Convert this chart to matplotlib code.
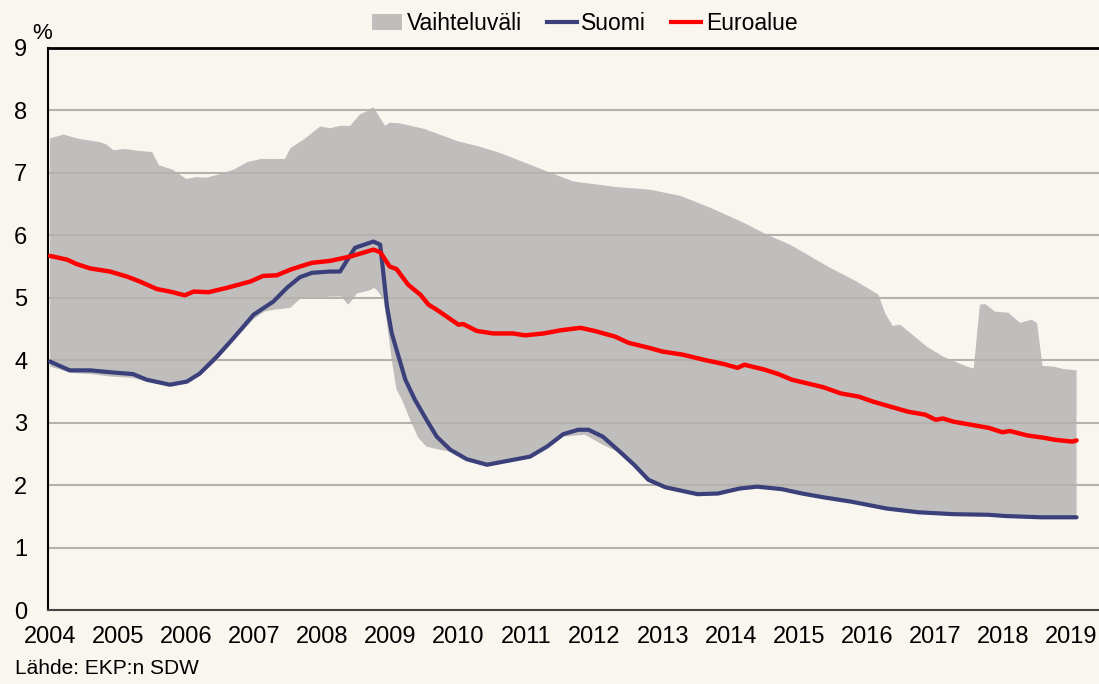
import numpy as np
from matplotlib import pyplot as plt
import matplotlib
from matplotlib.patches import Patch
from matplotlib.lines import Line2D
matplotlib.rcParams.update({'font.family': ['Liberation Sans', 'DejaVu Sans']})

# -----------------------------------------------------------#
# Data (decimal years, %)
# -----------------------------------------------------------#
euro_t = [2004.0, 2004.25, 2004.39, 2004.59, 2004.88, 2005.13, 2005.32, 2005.57, 2005.76, 2005.98,
          2006.11, 2006.33, 2006.60, 2006.94, 2007.13, 2007.33, 2007.53, 2007.67, 2007.85, 2008.11,
          2008.41, 2008.75, 2008.85, 2008.99, 2009.09, 2009.26, 2009.44, 2009.56, 2009.68, 2010.0,
          2010.07, 2010.27, 2010.51, 2010.80, 2010.98, 2011.25, 2011.50, 2011.79, 2012.0, 2012.3,
          2012.5, 2012.8, 2013.0, 2013.3, 2013.6, 2013.9, 2014.1, 2014.2, 2014.5, 2014.7,
          2014.9, 2015.36, 2015.62, 2015.88, 2016.09, 2016.60, 2016.86, 2017.01, 2017.12, 2017.27,
          2017.53, 2017.79, 2017.99, 2018.10, 2018.35, 2018.61, 2018.76, 2019.02, 2019.08]
euro_v = [5.67, 5.61, 5.54, 5.47, 5.42, 5.34, 5.26, 5.14, 5.10, 5.04,
          5.10, 5.09, 5.16, 5.26, 5.35, 5.36, 5.45, 5.50, 5.56, 5.59,
          5.66, 5.77, 5.73, 5.50, 5.46, 5.21, 5.05, 4.89, 4.81, 4.57,
          4.58, 4.47, 4.43, 4.43, 4.40, 4.43, 4.48, 4.52, 4.47, 4.38,
          4.28, 4.20, 4.14, 4.09, 4.01, 3.94, 3.88, 3.93, 3.85, 3.78,
          3.69, 3.57, 3.47, 3.42, 3.34, 3.18, 3.13, 3.05, 3.07, 3.02,
          2.97, 2.92, 2.85, 2.87, 2.80, 2.76, 2.73, 2.70, 2.72]

fin_t = [2004.0, 2004.29, 2004.59, 2004.88, 2005.22, 2005.42, 2005.76, 2006.01, 2006.20, 2006.45,
         2006.69, 2006.99, 2007.28, 2007.48, 2007.67, 2007.85, 2008.11, 2008.26, 2008.48, 2008.75,
         2008.85, 2008.95, 2009.02, 2009.12, 2009.22, 2009.36, 2009.53, 2009.68, 2009.88, 2010.12,
         2010.42, 2010.66, 2011.05, 2011.30, 2011.54, 2011.76, 2011.91, 2012.12, 2012.37, 2012.58,
         2012.79, 2013.04, 2013.51, 2013.81, 2014.13, 2014.39, 2014.75, 2015.05, 2015.36, 2015.77,
         2016.29, 2016.76, 2017.27, 2017.79, 2018.04, 2018.56, 2019.08]
fin_v = [3.98, 3.84, 3.84, 3.81, 3.78, 3.69, 3.61, 3.66, 3.79, 4.06,
         4.35, 4.73, 4.94, 5.16, 5.33, 5.40, 5.42, 5.42, 5.80, 5.90,
         5.85, 4.86, 4.43, 4.06, 3.69, 3.37, 3.05, 2.78, 2.57, 2.42,
         2.33, 2.38, 2.46, 2.62, 2.82, 2.89, 2.89, 2.78, 2.54, 2.33,
         2.09, 1.97, 1.86, 1.87, 1.95, 1.98, 1.94, 1.87, 1.81, 1.74,
         1.63, 1.57, 1.54, 1.53, 1.51, 1.49, 1.49]

hi_t = [2004.0, 2004.2, 2004.39, 2004.49, 2004.73, 2004.83, 2004.93, 2005.1, 2005.3, 2005.5,
        2005.6, 2005.8, 2006.0, 2006.15, 2006.3, 2006.5, 2006.7, 2006.9, 2007.1, 2007.3,
        2007.45, 2007.53, 2007.75, 2007.97, 2008.11, 2008.26, 2008.41, 2008.55, 2008.65, 2008.75,
        2008.92, 2008.99, 2009.14, 2009.5, 2009.8, 2010.0, 2010.3, 2010.6, 2011.0, 2011.35,
        2011.69, 2012.33, 2012.81, 2013.26, 2013.70, 2014.19, 2014.53, 2014.87, 2015.46, 2015.85,
        2016.17, 2016.27, 2016.38, 2016.49, 2016.88, 2017.12, 2017.47, 2017.57, 2017.66, 2017.74,
        2017.88, 2018.08, 2018.25, 2018.42, 2018.50, 2018.58, 2018.74, 2018.89, 2019.08]
hi_v = [7.55, 7.61, 7.55, 7.53, 7.49, 7.45, 7.36, 7.38, 7.35, 7.33,
        7.12, 7.05, 6.90, 6.93, 6.92, 6.98, 7.05, 7.17, 7.22, 7.22,
        7.22, 7.39, 7.55, 7.74, 7.71, 7.75, 7.75, 7.93, 7.98, 8.05,
        7.75, 7.80, 7.79, 7.70, 7.58, 7.50, 7.42, 7.32, 7.15, 7.00,
        6.86, 6.77, 6.73, 6.63, 6.44, 6.20, 6.01, 5.85, 5.48, 5.26,
        5.05, 4.75, 4.55, 4.57, 4.22, 4.06, 3.90, 3.87, 4.89, 4.90,
        4.78, 4.76, 4.60, 4.65, 4.60, 3.91, 3.90, 3.86, 3.84]

lo_t = [2004.0, 2004.3, 2004.6, 2004.9, 2005.2, 2005.42, 2005.76, 2006.01, 2006.2, 2006.45,
        2006.69, 2006.99, 2007.15, 2007.3, 2007.53, 2007.67, 2008.11, 2008.28, 2008.38, 2008.42,
        2008.51, 2008.70, 2008.76, 2008.82, 2008.90, 2008.97, 2009.02, 2009.09, 2009.17, 2009.29,
        2009.41, 2009.53, 2009.73, 2009.97, 2010.12, 2010.42, 2010.66, 2011.05, 2011.30, 2011.54,
        2011.86, 2012.12, 2012.37, 2012.58, 2012.79, 2013.04, 2013.51, 2013.81, 2014.13, 2014.39,
        2014.75, 2015.05, 2015.36, 2015.77, 2016.29, 2016.76, 2017.27, 2017.79, 2018.04, 2018.56,
        2019.08]
lo_v = [3.90, 3.80, 3.78, 3.74, 3.72, 3.66, 3.60, 3.64, 3.75, 4.00,
        4.30, 4.66, 4.78, 4.81, 4.84, 4.98, 5.02, 5.02, 4.89, 4.94,
        5.07, 5.12, 5.16, 5.10, 4.97, 4.43, 4.01, 3.53, 3.37, 3.05,
        2.76, 2.62, 2.57, 2.52, 2.41, 2.32, 2.37, 2.45, 2.60, 2.78,
        2.81, 2.65, 2.52, 2.32, 2.09, 1.97, 1.86, 1.87, 1.95, 1.98,
        1.94, 1.87, 1.81, 1.74, 1.63, 1.57, 1.54, 1.53, 1.51, 1.49,
        1.49]

years = list(range(2004, 2020))
bg = '#F9F5EF'

# -----------------------------------------------------------#
# Figure
# -----------------------------------------------------------#
fig = plt.figure(figsize=(10.99, 6.84), dpi=100, facecolor=bg)
ax = fig.add_axes([0.0437, 0.1075, 0.9563, 0.8228], facecolor=bg)

band_x = np.concatenate([hi_t, lo_t[::-1]])
band_y = np.concatenate([hi_v, lo_v[::-1]])
ax.fill(band_x, band_y, color='#BFBEBD', lw=0, zorder=1)

for v in range(1, 9):
    ax.axhline(v, color='#B5B1AC', lw=1.5, zorder=2)

ax.plot(fin_t, fin_v, color='#3B3F7A', lw=3.0, zorder=3, solid_capstyle='round')
ax.plot(euro_t, euro_v, color='#FF0000', lw=3.2, zorder=4, solid_capstyle='round')

ax.set_xlim(2003.97, 2019.41)
ax.set_ylim(0, 9)
ax.set_xticks(years)
ax.set_yticks(range(0, 10))
ax.tick_params(length=0, labelsize=17)
ax.tick_params(axis='y', pad=15)
ax.tick_params(axis='x', pad=11)

ax.spines['right'].set_visible(False)
ax.spines['left'].set_linewidth(1.5)
ax.spines['top'].set_linewidth(2)
ax.spines['bottom'].set_linewidth(1.5)
ax.spines['bottom'].set_color('#444444')

fig.text(0.029, 0.943, '%', fontsize=16)
fig.text(0.014, 0.014, 'Lähde: EKP:n SDW', fontsize=15)

handles = [Patch(facecolor='#BFBEBD', edgecolor='none'),
           Line2D([], [], color='#3B3F7A', lw=3),
           Line2D([], [], color='#FF0000', lw=3)]
fig.legend(handles, ['Vaihteluväli', 'Suomi', 'Euroalue'], loc='upper center',
           bbox_to_anchor=(0.532, 1.012), ncol=3, frameon=False, fontsize=16.5,
           handlelength=1.3, handletextpad=0.2, columnspacing=1.1)

plt.savefig('out.png', dpi=100, facecolor=bg)
